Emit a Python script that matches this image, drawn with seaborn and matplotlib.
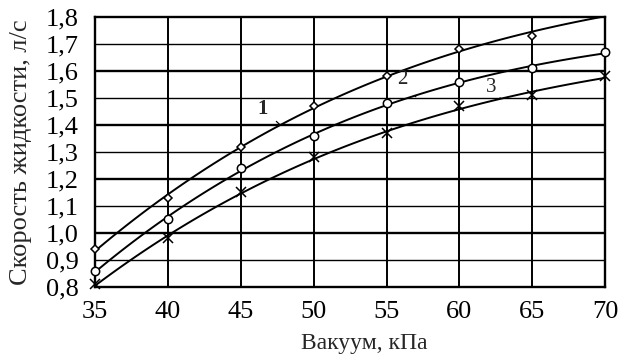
import matplotlib
matplotlib.use("Agg")
import matplotlib.pyplot as plt
import seaborn as sns

# вакуум, кПа
vacuum = [35, 40, 45, 50, 55, 60, 65, 70]
# скорость жидкости, л/с (точка кривой 1 при 70 кПа выходит за рамку)
curve1 = [0.94, 1.13, 1.32, 1.47, 1.58, 1.68, 1.73, 1.81]
curve2 = [0.86, 1.05, 1.24, 1.36, 1.48, 1.56, 1.61, 1.67]
curve3 = [0.81, 0.98, 1.15, 1.28, 1.37, 1.47, 1.51, 1.58]

yticks = [0.8, 0.9, 1.0, 1.1, 1.2, 1.3, 1.4, 1.5, 1.6, 1.7, 1.8]

sns.set_style("white")
plt.rcParams['font.family'] = ['Liberation Serif', 'DejaVu Serif']

fig = plt.figure(figsize=(6.35, 3.56), dpi=100)
ax = fig.add_axes([0.150, 0.194, 0.803, 0.758])
ax.set_xlim(35, 70)
ax.set_ylim(0.8, 1.8)

# сетка
for x in vacuum[1:-1]:
    ax.axvline(x, color='black', lw=1.4, zorder=1)
for i, y in enumerate(yticks[1:-1]):
    ax.axhline(y, color='black', lw=1.7 if i % 2 == 1 else 1.0, zorder=1)

# кривая 1: маркер при 70 кПа за пределами графика не рисуется
series = [(curve1, 'D', 4.5, 7), (curve2, 'o', 6, 8), (curve3, 'x', 7, 8)]
for vals, mk, ms, n in series:
    sns.regplot(x=vacuum, y=vals, order=3, ci=None, truncate=False, ax=ax,
                scatter=False, line_kws=dict(color='black', lw=1.4, zorder=3))
    if mk == 'x':
        ax.plot(vacuum[:n], vals[:n], ls='none', marker=mk, ms=ms, mec='black',
                mew=1.1, zorder=4, clip_on=False)
    else:
        ax.plot(vacuum[:n], vals[:n], ls='none', marker=mk, ms=ms, mfc='white',
                mec='black', mew=1.1, zorder=4, clip_on=False)

ax.set_xlim(35, 70)
ax.set_ylim(0.8, 1.8)

# подписи кривых
labels = [("1", (46.5, 1.46), (47.7, 1.40), 'bold'),
          ("2", (56.1, 1.57), (57.0, 1.505), 'normal'),
          ("3", (62.2, 1.54), (62.8, 1.50), 'normal')]
for txt, tpos, lpos, fw in labels:
    ax.annotate(txt, xy=lpos, xytext=tpos, fontsize=15, fontweight=fw,
                ha='center', va='center', zorder=5,
                arrowprops=dict(arrowstyle='-', color='black', lw=0.9,
                                shrinkA=5, shrinkB=0))

ax.set_xticks(vacuum)
ax.set_xticklabels([str(v) for v in vacuum])
ax.set_yticks(yticks)
ax.set_yticklabels([f"{v:.1f}".replace('.', ',') for v in yticks])
ax.tick_params(axis='both', length=0, labelsize=19, colors='black')
ax.tick_params(axis='y', pad=12)
ax.tick_params(axis='x', pad=10)
for s in ax.spines.values():
    s.set_visible(True)
    s.set_color('black')
    s.set_linewidth(1.7)

ax.set_xlabel("Вакуум, кПа", fontsize=17)
ax.xaxis.set_label_coords(0.527, -0.17)
ax.set_ylabel("Скорость жидкости, л/с", fontsize=19, labelpad=10)

fig.savefig("out.png", dpi=100)
